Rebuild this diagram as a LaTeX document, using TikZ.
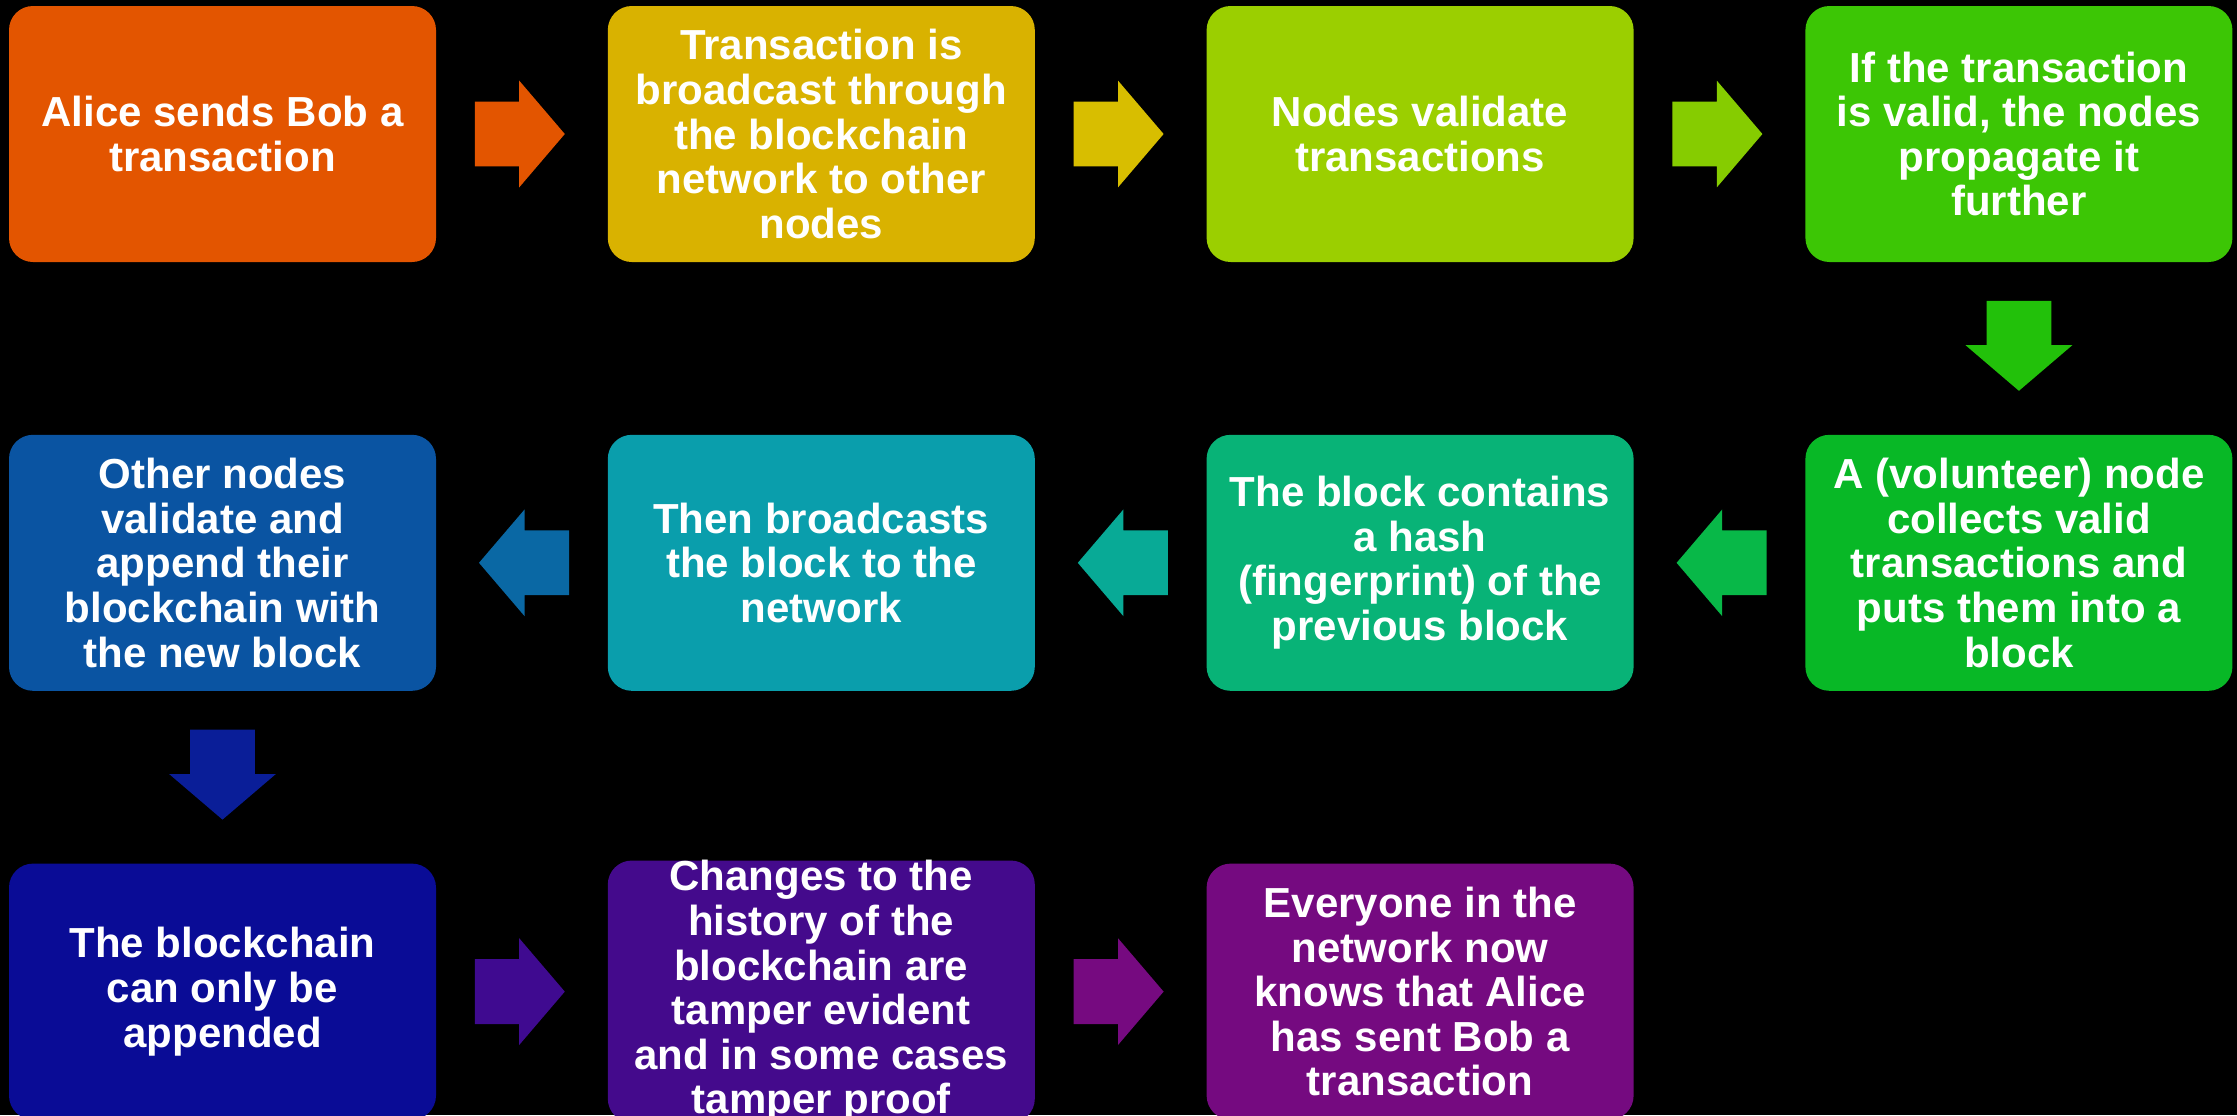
\documentclass[tikz,border=0pt]{standalone}
\usepackage{fontspec}
\setmainfont{Liberation Sans}
\usepackage{tikz}
\usetikzlibrary{positioning, calc, shapes.arrows}

\definecolor{cOne}{HTML}{E35500}
\definecolor{cTwo}{HTML}{D9B200}
\definecolor{cThree}{HTML}{9BCF00}
\definecolor{cFour}{HTML}{3CC605}
\definecolor{cFive}{HTML}{08B826}
\definecolor{cSix}{HTML}{08B377}
\definecolor{cSeven}{HTML}{0A9EAC}
\definecolor{cEight}{HTML}{0A54A2}
\definecolor{cNine}{HTML}{0A0C96}
\definecolor{cTen}{HTML}{440A8C}
\definecolor{cEleven}{HTML}{750A80}

\definecolor{aOne}{HTML}{E35500}
\definecolor{aTwo}{HTML}{D8BE00}
\definecolor{aThree}{HTML}{86CC00}
\definecolor{aFour}{HTML}{22C10A}
\definecolor{aFive}{HTML}{08B848}
\definecolor{aSix}{HTML}{08AA96}
\definecolor{aSeven}{HTML}{0A68A4}
\definecolor{aEight}{HTML}{0A1E98}
\definecolor{aNine}{HTML}{3F0A90}
\definecolor{aTen}{HTML}{760A80}

\begin{document}
\begin{tikzpicture}[x=0.5pt, y=-0.5pt,
  node distance=86pt and 85.5pt,
  card/.style={rectangle, rounded corners=12pt, minimum width=213.5pt,
    minimum height=128pt, inner sep=0pt, align=center, text=white,
    font=\bfseries\fontsize{21}{22.3}\selectfont},
  flow/.style={single arrow, minimum height=45pt, minimum width=53pt,
    single arrow head extend=10.5pt, single arrow tip angle=99,
    inner xsep=0pt, inner ysep=16pt, draw=none, anchor=tail},
  flowdown/.style={flow, inner xsep=16pt, inner ysep=0pt,
    shape border rotate=270}]

\clip (0,0) rectangle (2237,1115);
\fill[black] (0,0) rectangle (2237,1115);

% first row, left to right
\node[card, fill=cOne] (alice) at (222.5,134) {Alice sends Bob a\\transaction};
\node[card, fill=cTwo, right=of alice] (bcast) {Transaction is\\broadcast through\\the blockchain\\network to other\\nodes};
\node[card, fill=cThree, right=of bcast] (validate) {Nodes validate\\transactions};
\node[card, fill=cFour, right=of validate] (propagate) {If the transaction\\is valid, the nodes\\propagate it\\further};

% second row, right to left
\node[card, fill=cFive, below=of propagate] (collect) {A (volunteer) node\\collects valid\\transactions and\\puts them into a\\block};
\node[card, fill=cSix, left=of collect] (hashblk) {The block contains\\a hash\\(fingerprint) of the\\previous block};
\node[card, fill=cSeven, left=of hashblk] (broadcast) {Then broadcasts\\the block to the\\network};
\node[card, fill=cEight, left=of broadcast] (others) {Other nodes\\validate and\\append their\\blockchain with\\the new block};

% third row
\node[card, fill=cNine, below=of others] (appendonly) {The blockchain\\can only be\\appended};
\node[card, fill=cTen, right=of appendonly] (tamper) {Changes to the\\history of the\\blockchain are\\tamper evident\\and in some cases\\tamper proof};
\node[card, fill=cEleven, right=of tamper] (everyone) {Everyone in the\\network now\\knows that Alice\\has sent Bob a\\transaction};

\node[flow, fill=aOne] (a1) at ($(alice.east)!19pt!(bcast.west)$) {};
\node[flow, fill=aTwo] (a2) at ($(bcast.east)!19pt!(validate.west)$) {};
\node[flow, fill=aThree] (a3) at ($(validate.east)!19pt!(propagate.west)$) {};
\node[flowdown, fill=aFour] (a4) at ($(propagate.south)!19pt!(collect.north)$) {};
\node[flow, fill=aFive, shape border rotate=180] (a5) at ($(collect.west)!19pt!(hashblk.east)$) {};
\node[flow, fill=aSix, shape border rotate=180] (a6) at ($(hashblk.west)!19pt!(broadcast.east)$) {};
\node[flow, fill=aSeven, shape border rotate=180] (a7) at ($(broadcast.west)!19pt!(others.east)$) {};
\node[flowdown, fill=aEight] (a8) at ($(others.south)!19pt!(appendonly.north)$) {};
\node[flow, fill=aNine] (a9) at ($(appendonly.east)!19pt!(tamper.west)$) {};
\node[flow, fill=aTen] (a10) at ($(tamper.east)!19pt!(everyone.west)$) {};
\end{tikzpicture}
\end{document}
